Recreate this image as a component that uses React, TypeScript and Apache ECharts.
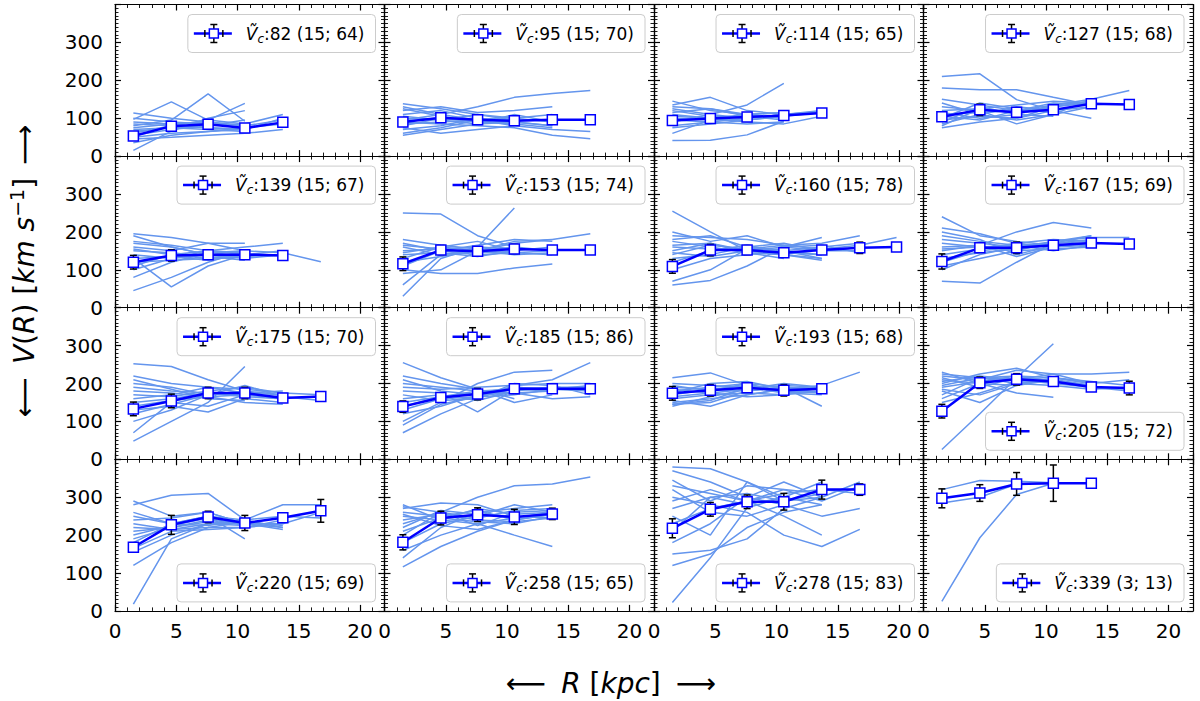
import { useEffect, useRef } from "react";
import * as echarts from "echarts";

// radial bins (kpc) shared by all panels
const R_BINS = [1.5, 4.6, 7.6, 10.6, 13.7, 16.8, 19.8];

const VC_MEDIAN = [82, 95, 114, 127, 139, 153, 160, 167, 175, 185, 193, 205, 220, 258, 278, 339];
const N_GALAXIES = [15, 15, 15, 15, 15, 15, 15, 15, 15, 15, 15, 15, 15, 15, 15, 3];
const N_POINTS = [64, 70, 65, 68, 67, 74, 78, 69, 70, 86, 68, 72, 69, 65, 83, 13];
const LEGEND_AT_BOTTOM = [
  false, false, false, false,
  false, false, false, false,
  false, false, false, true,
  true, true, true, true,
];

// binned mean curve and its error, one row per panel
const MEAN_V = [
  [53, 79, 84, 74, 89],
  [90, 101, 96, 93, 96, 96],
  [94, 99, 103, 107, 114],
  [104, 122, 116, 122, 138, 136],
  [120, 138, 140, 140, 138],
  [116, 152, 149, 155, 152, 152],
  [109, 152, 152, 145, 152, 158, 160],
  [122, 158, 158, 165, 171, 168],
  [133, 154, 175, 175, 162, 166],
  [139, 163, 172, 186, 186, 186],
  [174, 182, 189, 182, 186],
  [127, 202, 211, 205, 191, 188],
  [168, 227, 248, 232, 246, 264],
  [181, 245, 254, 248, 256],
  [218, 268, 288, 288, 320, 320],
  [297, 311, 335, 337, 337],
];
const MEAN_ERR = [
  [4, 4, 4, 5, 3],
  [6, 6, 5, 5, 5, 3],
  [5, 5, 4, 5, 5],
  [10, 15, 10, 8, 8, 5],
  [18, 15, 12, 10, 8],
  [18, 12, 10, 12, 10, 5],
  [18, 15, 12, 12, 8, 15, 8],
  [20, 12, 15, 10, 8, 5],
  [18, 18, 15, 15, 10, 8],
  [15, 12, 15, 12, 10, 12],
  [18, 15, 12, 15, 8],
  [18, 15, 15, 10, 8, 18],
  [12, 25, 15, 20, 10, 30],
  [20, 18, 18, 20, 15],
  [25, 18, 18, 22, 25, 15],
  [25, 22, 30, 48, 0],
];

// individual rotation curves, values at R_BINS
const LINES_82 = [
  [97, 143, 95, 85], [80, 95, 164, 92], [15, 66, 100, 120], [114, 100, 90, 80],
  [60, 80, 95, 139], [45, 50, 55, 60, 70], [35, 55, 65, 75, 85], [70, 75, 80, 85, 110],
  [90, 85, 75, 70, 100], [100, 90, 85, 75], [55, 70, 80, 95], [75, 85, 90, 80, 95],
  [85, 80, 75, 70], [65, 75, 70, 65], [50, 60, 65, 70],
];
const LINES_95 = [
  [138, 125, 110, 95], [95, 110, 130, 155, 165, 173], [120, 130, 115, 120, 130],
  [90, 85, 80, 75, 55, 46], [55, 70, 85, 110, 90], [60, 75, 95, 90, 80],
  [130, 110, 95, 80, 70, 65], [100, 95, 110, 100, 90], [80, 100, 90, 85, 75],
  [110, 120, 100, 85], [70, 80, 100, 90, 80], [105, 95, 85, 90],
  [125, 105, 90, 100, 110], [85, 90, 95, 105], [75, 60, 70, 80],
];
const LINES_114 = [
  [41, 42, 56, 92], [90, 110, 135, 192], [145, 120, 110, 100], [135, 155, 120, 110],
  [60, 95, 110, 115], [130, 125, 105, 95], [110, 100, 90, 85, 105], [100, 95, 95, 105, 115],
  [120, 105, 100, 110], [80, 90, 100, 110, 120], [95, 90, 85, 90], [115, 125, 110, 115],
  [105, 100, 110, 100], [75, 85, 95, 105], [125, 110, 100, 110, 118],
];
const LINES_127 = [
  [210, 217, 149, 120, 100], [110, 115, 120, 135, 150, 173], [180, 175, 175, 155, 135],
  [90, 130, 110, 135, 145], [75, 90, 100, 120, 130], [130, 120, 85, 110, 150],
  [140, 110, 95, 110, 130], [100, 140, 125, 115], [95, 105, 100, 130, 140],
  [120, 125, 135, 145, 140], [85, 110, 130, 120], [150, 135, 120, 125],
  [105, 95, 120, 140, 135], [115, 100, 110, 105], [80, 125, 115, 130, 145],
];
const LINES_139 = [
  [195, 185, 170, 150], [190, 160, 140, 130, 140], [45, 80, 120, 150], [130, 55, 110, 140],
  [160, 150, 170, 170], [140, 130, 150, 160, 170], [100, 130, 140, 150, 145, 121],
  [150, 145, 135, 125], [170, 160, 140, 135], [110, 140, 150, 145], [130, 135, 125, 140, 150],
  [80, 120, 145, 150], [175, 165, 150, 140], [120, 125, 130, 135, 140], [155, 140, 130, 145],
];
const LINES_153 = [
  [250, 247, 190, 160, 150], [30, 130, 160, 263], [90, 100, 150, 170, 180, 195],
  [160, 140, 150, 175, 180], [150, 155, 145, 150, 160], [130, 160, 175, 150],
  [180, 165, 155, 145, 140], [110, 150, 165, 180, 175], [140, 145, 135, 150],
  [170, 150, 140, 145, 150], [120, 135, 150, 160], [100, 90, 90, 105, 115],
  [165, 155, 160, 155], [60, 140, 155, 145], [145, 160, 150, 140, 145],
];
const LINES_160 = [
  [255, 200, 150, 140, 130], [60, 72, 110, 160, 185], [70, 100, 155, 165, 170, 190],
  [180, 190, 160, 170, 150, 150], [200, 175, 190, 160, 150], [150, 170, 145, 140, 155, 165, 185],
  [160, 155, 150, 160, 165, 145], [130, 140, 160, 150, 130], [120, 150, 165, 145, 140],
  [175, 160, 145, 130], [140, 165, 155, 150, 160, 170], [100, 130, 140, 150, 140],
  [190, 185, 180, 165, 155], [165, 170, 150, 140, 125], [145, 135, 150, 155],
];
const LINES_167 = [
  [240, 190, 175, 165], [70, 65, 120, 170, 190], [150, 165, 200, 225, 210],
  [210, 195, 170, 160, 165], [180, 170, 160, 175, 185, 185], [120, 150, 160, 170, 175],
  [190, 175, 165, 150, 165], [100, 140, 160, 170, 180], [160, 165, 135, 160, 170],
  [140, 155, 170, 180, 175], [170, 160, 150, 155, 160], [200, 180, 140, 165],
  [130, 145, 155, 165, 170], [155, 160, 165, 170], [110, 130, 150, 175, 190],
];
const LINES_175 = [
  [252, 245, 210, 180, 170], [48, 100, 150, 245], [70, 150, 140, 170],
  [220, 200, 190, 175, 180], [200, 190, 170, 195, 165, 155], [130, 140, 125, 160, 150],
  [180, 175, 165, 150, 145], [160, 170, 190, 185, 175, 170], [190, 180, 175, 165, 160],
  [150, 160, 175, 170, 165], [210, 185, 160, 155], [120, 145, 170, 175, 170],
  [170, 165, 180, 190, 175], [140, 155, 165, 170, 160], [100, 130, 170, 180],
];
const LINES_185 = [
  [255, 215, 185, 160], [70, 120, 160, 195, 210, 255], [100, 150, 200, 230, 235],
  [200, 190, 180, 175, 160, 165], [180, 175, 125, 185, 190, 190], [150, 165, 175, 190, 185, 180],
  [220, 200, 185, 150, 170], [130, 160, 165, 170, 185, 195], [190, 185, 190, 195, 200, 200],
  [160, 170, 155, 180, 190], [120, 140, 170, 190, 185, 185], [210, 180, 170, 175, 180],
  [170, 155, 160, 200, 195, 170], [140, 165, 180, 185, 180], [90, 145, 165, 185],
];
const LINES_193 = [
  [215, 228, 195, 180, 185], [150, 160, 170, 185, 195, 230], [145, 150, 180, 190, 140],
  [200, 195, 190, 175, 170], [165, 175, 185, 200, 190], [180, 190, 200, 175, 180],
  [155, 140, 170, 185, 190], [190, 185, 180, 190, 185], [170, 185, 195, 180],
  [140, 165, 185, 195, 190], [195, 180, 200, 190, 185], [160, 170, 175, 170, 180],
  [175, 200, 205, 185], [185, 175, 165, 170, 190], [145, 155, 190, 180, 175],
];
const LINES_205 = [
  [26, 120, 215, 305], [220, 210, 235, 225, 225, 230], [200, 225, 240, 215, 205, 195],
  [170, 215, 210, 225, 200, 210], [210, 200, 175, 164], [185, 170, 200, 210, 190],
  [215, 190, 215, 205, 190, 180], [160, 200, 215, 210, 195], [195, 215, 200, 195, 185, 190],
  [225, 215, 220, 205, 195], [180, 150, 195, 215, 200], [205, 220, 210, 200, 190, 185],
  [150, 175, 205, 210, 195], [230, 200, 195, 210], [190, 205, 220, 215, 200],
];
const LINES_220 = [
  [18, 190, 230, 230], [280, 305, 310, 240, 220], [290, 250, 260, 230],
  [260, 230, 250, 240, 280, 280], [120, 180, 220, 220, 230], [240, 245, 260, 230, 220],
  [155, 200, 230, 240, 250, 245], [210, 220, 240, 230, 215], [180, 230, 250, 190],
  [230, 215, 220, 235, 225], [200, 225, 245, 225], [165, 210, 215, 220, 240],
  [250, 230, 225, 240], [190, 220, 235, 230, 230, 260], [220, 215, 230, 225],
];
const LINES_258 = [
  [116, 170, 210, 240, 255], [200, 260, 300, 330, 335, 353], [280, 240, 230, 200, 170],
  [270, 285, 280, 250, 245], [250, 240, 270, 255, 260], [230, 260, 225, 260, 265],
  [140, 220, 260, 270, 280], [210, 245, 235, 230, 250], [260, 250, 265, 240, 255],
  [180, 230, 250, 280, 260], [240, 255, 240, 235, 245], [220, 265, 255, 250],
  [160, 200, 230, 245, 260], [255, 225, 215, 240], [275, 260, 245, 265, 270],
];
const LINES_278 = [
  [22, 140, 272, 300], [380, 375, 340, 300, 280], [370, 340, 300, 340, 300],
  [345, 290, 330, 320, 290, 330], [290, 320, 290, 250, 200], [180, 230, 300, 280, 250, 270],
  [150, 160, 190, 270, 300, 340], [300, 280, 260, 200, 170, 215], [250, 200, 340, 290, 310],
  [120, 150, 220, 260, 280], [330, 310, 290, 310, 320, 310], [270, 300, 310, 290, 300],
  [210, 300, 280, 300, 340], [320, 260, 250, 280], [230, 270, 290, 320, 310],
];
const LINES_339 = [
  [25, 193, 307, 337], [320, 344, 342, 338, 338], [285, 300, 335, 337],
];
const GALAXY_LINES = [
  LINES_82, LINES_95, LINES_114, LINES_127, LINES_139, LINES_153, LINES_160, LINES_167,
  LINES_175, LINES_185, LINES_193, LINES_205, LINES_220, LINES_258, LINES_278, LINES_339,
];

const FONT = "DejaVu Sans";
const LIGHT = "#6495ed";
const DARK = "#0000ff";
const GRID_LEFT = 115;
const GRID_TOP = 4.5;
const CELL_W = 269.5;
const CELL_H = 151.6;
const X_MAX = 22;

const frameStyle = { color: "#000", width: 1.2 };

function measure(ctx: CanvasRenderingContext2D, text: string, font: string) {
  ctx.font = font;
  return ctx.measureText(text).width;
}

function xAxisDef(gridIndex: number, position: string, major: boolean, labels: boolean) {
  return {
    type: "value",
    gridIndex,
    position,
    min: 0,
    max: X_MAX,
    interval: major ? 5 : 1,
    axisLine: { show: major, onZero: false, lineStyle: frameStyle },
    axisTick: {
      show: true,
      inside: true,
      length: major ? 6 : 3.5,
      lineStyle: { color: "#000", width: major ? 1.2 : 0.9 },
    },
    splitLine: { show: false },
    axisLabel: {
      show: labels,
      showMaxLabel: false,
      fontSize: 20,
      fontFamily: FONT,
      color: "#000",
      margin: 10,
    },
  };
}

function yAxisDef(gridIndex: number, position: string, labels: boolean) {
  return {
    type: "value",
    gridIndex,
    position,
    min: 0,
    max: 400,
    interval: 100,
    axisLine: { show: true, onZero: false, lineStyle: frameStyle },
    axisTick: { show: true, inside: true, length: 6, lineStyle: { color: "#000", width: 1.2 } },
    minorTick: { show: true, splitNumber: 10, length: 3.5, lineStyle: { color: "#000", width: 0.9 } },
    splitLine: { show: false },
    axisLabel: {
      show: labels,
      showMaxLabel: false,
      fontSize: 20,
      fontFamily: FONT,
      color: "#000",
      margin: 12,
    },
  };
}

export default function App() {
  const ref = useRef<HTMLDivElement>(null);

  useEffect(() => {
    if (!ref.current) return;
    const chart = echarts.init(ref.current, null, { renderer: "svg" });
    const ctx = document.createElement("canvas").getContext("2d")!;

    const grids: any[] = [];
    const xAxes: any[] = [];
    const yAxes: any[] = [];
    const series: any[] = [];
    const graphics: any[] = [];

    VC_MEDIAN.forEach((vc, p) => {
      const row = Math.floor(p / 4);
      const col = p % 4;
      const left = GRID_LEFT + col * CELL_W;
      const top = GRID_TOP + row * CELL_H;
      grids.push({ left, top, width: CELL_W, height: CELL_H });

      const xi = xAxes.length;
      xAxes.push(xAxisDef(p, "bottom", true, row === 3));
      xAxes.push(xAxisDef(p, "top", true, false));
      xAxes.push(xAxisDef(p, "bottom", false, false));
      xAxes.push(xAxisDef(p, "top", false, false));
      const yi = yAxes.length;
      yAxes.push(yAxisDef(p, "left", col === 0));
      yAxes.push(yAxisDef(p, "right", false));

      GALAXY_LINES[p].forEach((line) => {
        series.push({
          type: "line",
          xAxisIndex: xi,
          yAxisIndex: yi,
          data: line.map((v, i) => [R_BINS[i], v]),
          symbol: "none",
          silent: true,
          lineStyle: { color: LIGHT, width: 1.5 },
          z: 2,
        });
      });

      const mean = MEAN_V[p].map((v, i) => [R_BINS[i], v]);
      series.push({
        type: "line",
        xAxisIndex: xi,
        yAxisIndex: yi,
        data: mean,
        symbol: "none",
        lineStyle: { color: DARK, width: 2.5 },
        z: 3,
      });
      series.push({
        type: "custom",
        xAxisIndex: xi,
        yAxisIndex: yi,
        data: MEAN_V[p].map((v, i) => [R_BINS[i], v, MEAN_ERR[p][i]]),
        z: 4,
        renderItem: (_params: any, api: any) => {
          const x = api.value(0);
          const v = api.value(1);
          const e = api.value(2);
          if (!e) return { type: "group", children: [] };
          const hi = api.coord([x, v + e]);
          const lo = api.coord([x, v - e]);
          const w = 3.5;
          const st = { stroke: "#000", lineWidth: 1.5 };
          return {
            type: "group",
            children: [
              { type: "line", shape: { x1: hi[0], y1: hi[1], x2: lo[0], y2: lo[1] }, style: st },
              { type: "line", shape: { x1: hi[0] - w, y1: hi[1], x2: hi[0] + w, y2: hi[1] }, style: st },
              { type: "line", shape: { x1: lo[0] - w, y1: lo[1], x2: lo[0] + w, y2: lo[1] }, style: st },
            ],
          };
        },
      });
      series.push({
        type: "scatter",
        xAxisIndex: xi,
        yAxisIndex: yi,
        data: mean,
        symbol: "rect",
        symbolSize: 10,
        itemStyle: { color: "#fff", borderColor: DARK, borderWidth: 1.5, opacity: 1 },
        z: 5,
      });

      // legend box
      const tail = `:${vc} (${N_GALAXIES[p]}; ${N_POINTS[p]})`;
      const textW =
        measure(ctx, "Ṽ", `italic 17px "${FONT}"`) +
        measure(ctx, "c", `italic 12px "${FONT}"`) +
        measure(ctx, tail, `17px "${FONT}"`);
      const boxW = 58 + textW + 11;
      const boxH = 38;
      const bx = left + CELL_W - 9 - boxW;
      const by = LEGEND_AT_BOTTOM[p] ? top + CELL_H - 9 - boxH : top + 10;
      const cy = by + boxH / 2;
      const ix = bx + 26;
      const blk = { stroke: "#000", lineWidth: 1.5 };
      graphics.push(
        {
          type: "rect",
          shape: { x: bx, y: by, width: boxW, height: boxH, r: 4 },
          style: { fill: "rgba(255,255,255,0.8)", stroke: "#cccccc", lineWidth: 1 },
          z: 100,
        },
        { type: "line", shape: { x1: bx + 6, y1: cy, x2: bx + 44, y2: cy }, style: { stroke: DARK, lineWidth: 2.5 }, z: 101 },
        { type: "line", shape: { x1: ix, y1: cy - 9, x2: ix, y2: cy + 9 }, style: blk, z: 102 },
        { type: "line", shape: { x1: ix - 3.5, y1: cy - 9, x2: ix + 3.5, y2: cy - 9 }, style: blk, z: 102 },
        { type: "line", shape: { x1: ix - 3.5, y1: cy + 9, x2: ix + 3.5, y2: cy + 9 }, style: blk, z: 102 },
        { type: "line", shape: { x1: ix - 9, y1: cy - 3.5, x2: ix - 9, y2: cy + 3.5 }, style: blk, z: 102 },
        { type: "line", shape: { x1: ix + 9, y1: cy - 3.5, x2: ix + 9, y2: cy + 3.5 }, style: blk, z: 102 },
        {
          type: "rect",
          shape: { x: ix - 4.5, y: cy - 4.5, width: 9, height: 9 },
          style: { fill: "#fff", stroke: DARK, lineWidth: 1.5 },
          z: 103,
        },
        {
          type: "text",
          x: bx + 58,
          y: cy,
          z: 103,
          style: {
            text: `{v|Ṽ}{c|c}{t|${tail}}`,
            align: "left",
            verticalAlign: "middle",
            fill: "#000",
            rich: {
              v: { fontFamily: FONT, fontSize: 17, fontStyle: "italic", lineHeight: 22, verticalAlign: "middle" },
              c: { fontFamily: FONT, fontSize: 12, fontStyle: "italic", lineHeight: 10, verticalAlign: "bottom" },
              t: { fontFamily: FONT, fontSize: 17, lineHeight: 22, verticalAlign: "middle" },
            },
          },
        }
      );
    });

    // axis titles
    graphics.push(
      {
        type: "text",
        x: 611,
        y: 683,
        style: {
          text: "{n|⟵}{g| }{i|R}{n| [}{i|kpc}{n|]}{g| }{n|⟶}",
          align: "center",
          verticalAlign: "middle",
          fill: "#000",
          rich: {
            n: { fontFamily: FONT, fontSize: 28 },
            i: { fontFamily: FONT, fontSize: 28, fontStyle: "italic" },
            g: { fontFamily: FONT, fontSize: 28, width: 15 },
          },
        },
      },
      {
        type: "text",
        x: 24,
        y: 271,
        rotation: Math.PI / 2,
        style: {
          text: "{n|⟵}{g| }{i|V}{n|(}{i|R}{n|) [}{i|km s}{s|−1}{n|]}{g| }{n|⟶}",
          align: "center",
          verticalAlign: "middle",
          fill: "#000",
          rich: {
            n: { fontFamily: FONT, fontSize: 28, lineHeight: 34, verticalAlign: "middle" },
            i: { fontFamily: FONT, fontSize: 28, fontStyle: "italic", lineHeight: 34, verticalAlign: "middle" },
            g: { fontFamily: FONT, fontSize: 28, width: 13, lineHeight: 34 },
            s: { fontFamily: FONT, fontSize: 19, lineHeight: 16, verticalAlign: "top" },
          },
        },
      }
    );

    chart.setOption({
      animation: false,
      backgroundColor: "#fff",
      grid: grids,
      xAxis: xAxes,
      yAxis: yAxes,
      series,
      graphic: graphics,
    });

    return () => chart.dispose();
  }, []);

  return (
    <div
      ref={ref}
      style={{ position: "fixed", left: 0, top: 0, width: 1200, height: 701, background: "#fff" }}
    />
  );
}
